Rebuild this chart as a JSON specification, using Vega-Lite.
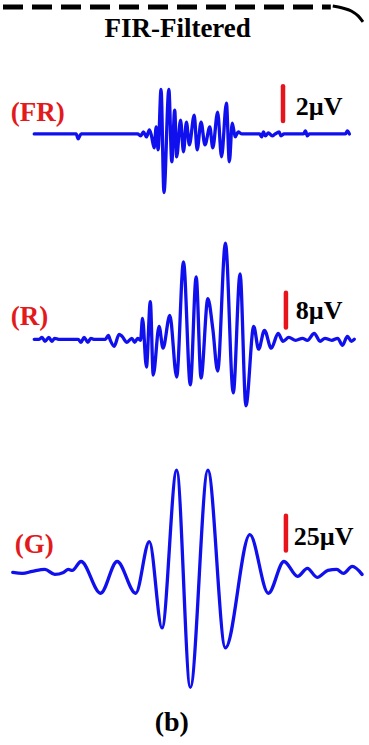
{
  "$schema": "https://vega.github.io/schema/vega-lite/v6.json",
  "width": 369,
  "height": 745,
  "autosize": {"type": "fit", "contains": "padding"},
  "padding": 0,
  "background": "white",
  "config": {"view": {"stroke": null}},
  "datasets": {
    "traces": [
      {"s":"FR","t":32,"v":129},{"s":"FR","t":75,"v":129},{"s":"FR","t":77,"v":134},{"s":"FR","t":80,"v":129},{"s":"FR","t":138,"v":129},{"s":"FR","t":141,"v":131},{"s":"FR","t":144,"v":127},{"s":"FR","t":147,"v":132},{"s":"FR","t":150,"v":125},{"s":"FR","t":152,"v":130},{"s":"FR","t":155,"v":143},{"s":"FR","t":157,"v":122},{"s":"FR","t":159,"v":145},{"s":"FR","t":162,"v":84},{"s":"FR","t":165,"v":188},{"s":"FR","t":170,"v":84},{"s":"FR","t":173,"v":157},{"s":"FR","t":176,"v":105},{"s":"FR","t":178,"v":152},{"s":"FR","t":182,"v":115},{"s":"FR","t":185,"v":147},{"s":"FR","t":188,"v":117},{"s":"FR","t":191,"v":140},{"s":"FR","t":196,"v":110},{"s":"FR","t":199,"v":145},{"s":"FR","t":203,"v":117},{"s":"FR","t":207,"v":140},{"s":"FR","t":212,"v":122},{"s":"FR","t":215,"v":143},{"s":"FR","t":220,"v":107},{"s":"FR","t":224,"v":152},{"s":"FR","t":229,"v":98},{"s":"FR","t":232,"v":157},{"s":"FR","t":235,"v":118},{"s":"FR","t":238,"v":132},{"s":"FR","t":241,"v":127},{"s":"FR","t":245,"v":129},{"s":"FR","t":263,"v":129},{"s":"FR","t":265,"v":132},{"s":"FR","t":267,"v":127},{"s":"FR","t":269,"v":131},{"s":"FR","t":272,"v":128},{"s":"FR","t":276,"v":131},{"s":"FR","t":279,"v":129},{"s":"FR","t":283,"v":127},{"s":"FR","t":285,"v":131},{"s":"FR","t":288,"v":129},{"s":"FR","t":308,"v":129},{"s":"FR","t":310,"v":126},{"s":"FR","t":312,"v":131},{"s":"FR","t":314,"v":129},{"s":"FR","t":351,"v":129},{"s":"FR","t":353,"v":126},{"s":"FR","t":355,"v":129},

      {"s":"R","t":32,"v":336},{"s":"R","t":37,"v":336},{"s":"R","t":40,"v":334},{"s":"R","t":43,"v":338},{"s":"R","t":47,"v":334},{"s":"R","t":50,"v":338},{"s":"R","t":53,"v":335},{"s":"R","t":57,"v":336},{"s":"R","t":77,"v":336},{"s":"R","t":80,"v":339},{"s":"R","t":83,"v":334},{"s":"R","t":87,"v":339},{"s":"R","t":90,"v":335},{"s":"R","t":93,"v":336},{"s":"R","t":105,"v":336},{"s":"R","t":108,"v":332},{"s":"R","t":110,"v":337},{"s":"R","t":114,"v":343},{"s":"R","t":119,"v":331},{"s":"R","t":122,"v":333},{"s":"R","t":127,"v":339},{"s":"R","t":132,"v":335},{"s":"R","t":135,"v":339},{"s":"R","t":138,"v":335},{"s":"R","t":141,"v":337},{"s":"R","t":143,"v":315},{"s":"R","t":147,"v":364},{"s":"R","t":151,"v":298},{"s":"R","t":154,"v":372},{"s":"R","t":160,"v":323},{"s":"R","t":164,"v":345},{"s":"R","t":171,"v":312},{"s":"R","t":178,"v":374},{"s":"R","t":185,"v":258},{"s":"R","t":192,"v":382},{"s":"R","t":198,"v":273},{"s":"R","t":203,"v":375},{"s":"R","t":210,"v":295},{"s":"R","t":215,"v":325},{"s":"R","t":220,"v":368},{"s":"R","t":228,"v":239},{"s":"R","t":236,"v":390},{"s":"R","t":243,"v":270},{"s":"R","t":249,"v":403},{"s":"R","t":257,"v":323},{"s":"R","t":262,"v":346},{"s":"R","t":268,"v":327},{"s":"R","t":275,"v":345},{"s":"R","t":282,"v":330},{"s":"R","t":287,"v":338},{"s":"R","t":293,"v":334},{"s":"R","t":300,"v":337},{"s":"R","t":307,"v":335},{"s":"R","t":312,"v":337},{"s":"R","t":319,"v":330},{"s":"R","t":325,"v":338},{"s":"R","t":330,"v":335},{"s":"R","t":337,"v":337},{"s":"R","t":343,"v":335},{"s":"R","t":348,"v":342},{"s":"R","t":353,"v":333},{"s":"R","t":357,"v":338},{"s":"R","t":360,"v":336},

      {"s":"G","t":10,"v":571},{"s":"G","t":20,"v":572},{"s":"G","t":30,"v":570},{"s":"G","t":43,"v":568},{"s":"G","t":53,"v":573},{"s":"G","t":62,"v":571},{"s":"G","t":67,"v":568},{"s":"G","t":71,"v":569},{"s":"G","t":80,"v":560},{"s":"G","t":100,"v":592},{"s":"G","t":117,"v":560},{"s":"G","t":136,"v":592},{"s":"G","t":150,"v":540},{"s":"G","t":163,"v":627},{"s":"G","t":178,"v":468},{"s":"G","t":192,"v":687},{"s":"G","t":210,"v":468},{"s":"G","t":228,"v":647},{"s":"G","t":253,"v":533},{"s":"G","t":272,"v":592},{"s":"G","t":288,"v":560},{"s":"G","t":302,"v":575},{"s":"G","t":312,"v":567},{"s":"G","t":322,"v":576},{"s":"G","t":333,"v":569},{"s":"G","t":342,"v":568},{"s":"G","t":349,"v":572},{"s":"G","t":358,"v":565},{"s":"G","t":368,"v":573}
    ],
    "bars": [
      {"s":"FR","t":287,"v":81,"v2":116},
      {"s":"R","t":290,"v":289,"v2":324},
      {"s":"G","t":290,"v":514,"v2":549}
    ],
    "labels": [
      {"label":"(FR)","t":8,"v":116,"col":"red","size":27,"al":"left"},
      {"label":"(R)","t":8,"v":322,"col":"red","size":27,"al":"left"},
      {"label":"(G)","t":12,"v":551,"col":"red","size":27,"al":"left"},
      {"label":"2µV","t":300,"v":110,"col":"black","size":26,"al":"left"},
      {"label":"8µV","t":300,"v":316,"col":"black","size":26,"al":"left"},
      {"label":"25µV","t":298,"v":543,"col":"black","size":26,"al":"left"},
      {"label":"FIR-Filtered","t":179,"v":31,"col":"black","size":27,"al":"center"},
      {"label":"(b)","t":173,"v":731,"col":"black","size":28,"al":"center"}
    ],
    "frame": [
      {"t":0,"t2":336,"v":1}
    ],
    "corner": [
      {"t":338,"v":0},{"t":348,"v":2},{"t":357,"v":5},{"t":364,"v":10},{"t":369,"v":16}
    ]
  },
  "layer": [
    {
      "data": {"name": "frame"},
      "mark": {"type": "rule", "color": "black", "strokeWidth": 5, "strokeDash": [20, 9]},
      "encoding": {
        "x": {"field": "t", "type": "quantitative", "scale": {"domain": [0, 369], "nice": false, "zero": false}, "axis": null},
        "x2": {"field": "t2"},
        "y": {"field": "v", "type": "quantitative", "scale": {"domain": [745, 0], "nice": false, "zero": false}, "axis": null}
      }
    },
    {
      "data": {"name": "corner"},
      "mark": {"type": "line", "color": "black", "strokeWidth": 3, "interpolate": "monotone"},
      "encoding": {
        "x": {"field": "t", "type": "quantitative", "axis": null},
        "y": {"field": "v", "type": "quantitative", "axis": null}
      }
    },
    {
      "data": {"name": "traces"},
      "mark": {"type": "line", "color": "#1010ee", "strokeWidth": 3.3, "interpolate": "monotone", "strokeJoin": "round", "strokeCap": "round"},
      "encoding": {
        "x": {"field": "t", "type": "quantitative", "axis": null},
        "y": {"field": "v", "type": "quantitative", "axis": null},
        "detail": {"field": "s"}
      }
    },
    {
      "data": {"name": "bars"},
      "mark": {"type": "rule", "color": "#e8141c", "strokeWidth": 4.5, "strokeCap": "round"},
      "encoding": {
        "x": {"field": "t", "type": "quantitative", "axis": null},
        "y": {"field": "v", "type": "quantitative", "axis": null},
        "y2": {"field": "v2"}
      }
    },
    {
      "data": {"name": "labels"},
      "mark": {"type": "text", "font": "Liberation Serif", "fontWeight": "bold", "baseline": "alphabetic", "align": {"expr": "datum.al"}},
      "encoding": {
        "x": {"field": "t", "type": "quantitative", "axis": null},
        "y": {"field": "v", "type": "quantitative", "axis": null},
        "text": {"field": "label"},
        "color": {"field": "col", "type": "nominal", "scale": {"domain": ["red", "black"], "range": ["#e31a1c", "black"]}, "legend": null},
        "size": {"field": "size", "type": "quantitative", "scale": null, "legend": null}
      }
    }
  ]
}
